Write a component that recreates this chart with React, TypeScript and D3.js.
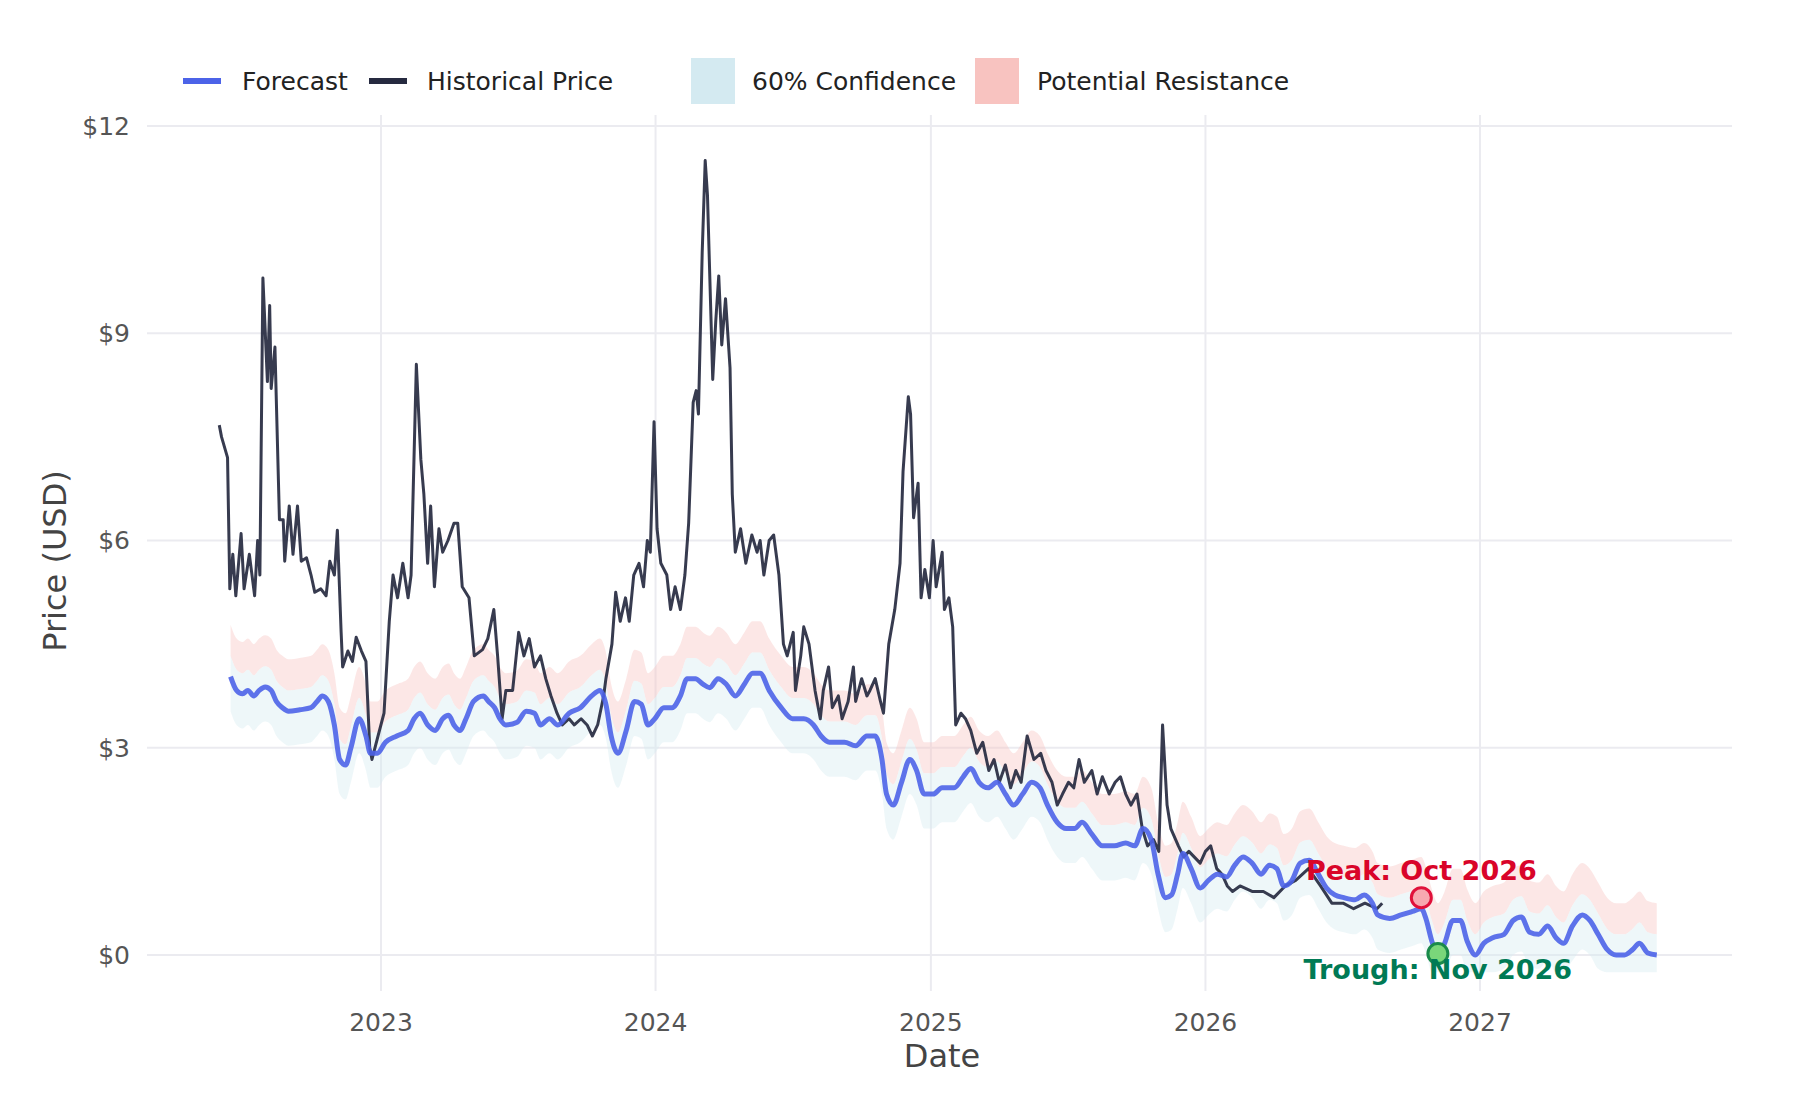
import * as d3 from "d3"

// decimal year, price
const historical: [number, number][] = [
  [2022.41, 7.67], [2022.42, 7.5], [2022.44, 7.2], [2022.45, 5.3], [2022.46, 5.8], [2022.47, 5.2],
  [2022.49, 6.1], [2022.5, 5.3], [2022.52, 5.8], [2022.54, 5.2], [2022.55, 6.0], [2022.56, 5.5],
  [2022.57, 9.8], [2022.585, 8.3], [2022.595, 9.4], [2022.6, 8.2], [2022.615, 8.8], [2022.63, 6.3],
  [2022.645, 6.3], [2022.65, 5.7], [2022.665, 6.5], [2022.68, 5.8], [2022.695, 6.5], [2022.71, 5.7],
  [2022.73, 5.75], [2022.745, 5.5], [2022.76, 5.25], [2022.78, 5.3], [2022.8, 5.2], [2022.815, 5.7],
  [2022.83, 5.5], [2022.84, 6.15], [2022.855, 4.67], [2022.86, 4.17], [2022.88, 4.4], [2022.895, 4.25],
  [2022.91, 4.6], [2022.93, 4.4], [2022.945, 4.25], [2022.96, 3.0], [2022.967, 2.83], [2022.99, 3.17],
  [2023.01, 3.5], [2023.03, 4.83], [2023.045, 5.5], [2023.06, 5.17], [2023.08, 5.67], [2023.1, 5.17],
  [2023.11, 5.5], [2023.13, 8.55], [2023.145, 7.17], [2023.155, 6.67], [2023.17, 5.67], [2023.18, 6.5],
  [2023.195, 5.33], [2023.21, 6.17], [2023.225, 5.83], [2023.245, 6.0], [2023.265, 6.25], [2023.28, 6.25],
  [2023.295, 5.33], [2023.32, 5.17], [2023.34, 4.33], [2023.37, 4.42], [2023.39, 4.58], [2023.41, 5.0],
  [2023.425, 4.33], [2023.44, 3.42], [2023.455, 3.83], [2023.48, 3.83], [2023.5, 4.67], [2023.52, 4.33],
  [2023.54, 4.58], [2023.56, 4.17], [2023.58, 4.33], [2023.6, 4.0], [2023.62, 3.75], [2023.64, 3.5],
  [2023.66, 3.33], [2023.685, 3.42], [2023.705, 3.33], [2023.73, 3.42], [2023.75, 3.33], [2023.77, 3.17],
  [2023.79, 3.33], [2023.81, 3.75], [2023.82, 4.0], [2023.84, 4.5], [2023.855, 5.25], [2023.87, 4.83],
  [2023.89, 5.17], [2023.905, 4.83], [2023.92, 5.5], [2023.94, 5.67], [2023.955, 5.33], [2023.97, 6.0],
  [2023.98, 5.83], [2023.994, 7.72], [2024.006, 6.17], [2024.02, 5.67], [2024.04, 5.5], [2024.056, 5.0],
  [2024.07, 5.33], [2024.09, 5.0], [2024.106, 5.5], [2024.12, 6.25], [2024.136, 8.0], [2024.148, 8.17],
  [2024.157, 7.83], [2024.17, 10.17], [2024.18, 11.5], [2024.19, 11.0], [2024.207, 8.33], [2024.22, 9.17],
  [2024.23, 9.83], [2024.24, 8.83], [2024.256, 9.5], [2024.27, 8.5], [2024.28, 6.67], [2024.29, 5.83],
  [2024.31, 6.17], [2024.33, 5.67], [2024.35, 6.08], [2024.37, 5.83], [2024.38, 6.0], [2024.395, 5.5],
  [2024.415, 6.0], [2024.43, 6.08], [2024.45, 5.5], [2024.465, 4.5], [2024.48, 4.33], [2024.5, 4.67],
  [2024.51, 3.83], [2024.53, 4.33], [2024.54, 4.75], [2024.56, 4.5], [2024.58, 3.83], [2024.6, 3.42],
  [2024.61, 3.83], [2024.63, 4.17], [2024.645, 3.58], [2024.665, 3.75], [2024.68, 3.42], [2024.7, 3.67],
  [2024.72, 4.17], [2024.73, 3.67], [2024.75, 4.0], [2024.77, 3.75], [2024.78, 3.83], [2024.8, 4.0],
  [2024.82, 3.67], [2024.83, 3.5], [2024.85, 4.5], [2024.87, 5.0], [2024.89, 5.67], [2024.9, 7.0],
  [2024.92, 8.08], [2024.93, 7.83], [2024.94, 6.33], [2024.955, 6.83], [2024.967, 5.17], [2024.98, 5.58],
  [2024.996, 5.17], [2025.008, 6.0], [2025.02, 5.33], [2025.04, 5.83], [2025.05, 5.0], [2025.067, 5.17],
  [2025.08, 4.75], [2025.09, 3.33], [2025.11, 3.5], [2025.125, 3.42], [2025.146, 3.25], [2025.167, 2.92],
  [2025.19, 3.08], [2025.21, 2.67], [2025.23, 2.83], [2025.25, 2.5], [2025.27, 2.75], [2025.29, 2.42],
  [2025.31, 2.67], [2025.33, 2.5], [2025.35, 3.17], [2025.375, 2.83], [2025.4, 2.92], [2025.42, 2.67],
  [2025.44, 2.5], [2025.46, 2.17], [2025.48, 2.33], [2025.5, 2.5], [2025.52, 2.42], [2025.54, 2.83],
  [2025.56, 2.5], [2025.585, 2.67], [2025.605, 2.33], [2025.625, 2.58], [2025.65, 2.33], [2025.67, 2.5],
  [2025.69, 2.58], [2025.71, 2.33], [2025.73, 2.17], [2025.75, 2.33], [2025.77, 1.83], [2025.79, 1.58],
  [2025.81, 1.67], [2025.83, 1.5], [2025.845, 3.33], [2025.86, 2.17], [2025.875, 1.83], [2025.9, 1.58],
  [2025.92, 1.42], [2025.94, 1.5], [2025.96, 1.42], [2025.98, 1.33], [2026.0, 1.5], [2026.02, 1.58],
  [2026.04, 1.25], [2026.06, 1.17], [2026.08, 1.0], [2026.1, 0.92], [2026.125, 1.0], [2026.17, 0.92],
  [2026.21, 0.92], [2026.25, 0.83], [2026.29, 1.0], [2026.33, 1.08], [2026.375, 1.25], [2026.42, 1.0],
  [2026.46, 0.75], [2026.5, 0.75], [2026.54, 0.67], [2026.58, 0.75], [2026.625, 0.67], [2026.645, 0.75],
]

const forecast: [number, number][] = [
  [2022.453, 4.03], [2022.474, 3.83], [2022.495, 3.78], [2022.516, 3.83], [2022.537, 3.75], [2022.557, 3.83],
  [2022.578, 3.88], [2022.599, 3.83], [2022.62, 3.67], [2022.641, 3.58], [2022.662, 3.53], [2022.704, 3.55],
  [2022.745, 3.58], [2022.766, 3.67], [2022.787, 3.75], [2022.808, 3.67], [2022.829, 3.33], [2022.85, 2.83],
  [2022.871, 2.75], [2022.891, 3.0], [2022.921, 3.42], [2022.946, 3.17], [2022.962, 2.92], [2022.987, 2.92],
  [2023.017, 3.08], [2023.058, 3.17], [2023.1, 3.25], [2023.121, 3.42], [2023.142, 3.5], [2023.171, 3.33],
  [2023.196, 3.25], [2023.225, 3.42], [2023.246, 3.47], [2023.267, 3.33], [2023.288, 3.25], [2023.309, 3.42],
  [2023.338, 3.67], [2023.372, 3.75], [2023.392, 3.67], [2023.413, 3.58], [2023.434, 3.42], [2023.455, 3.33],
  [2023.497, 3.37], [2023.53, 3.53], [2023.559, 3.5], [2023.58, 3.33], [2023.614, 3.42], [2023.643, 3.33],
  [2023.685, 3.5], [2023.727, 3.58], [2023.768, 3.75], [2023.797, 3.83], [2023.818, 3.63], [2023.839, 3.17],
  [2023.864, 2.92], [2023.894, 3.25], [2023.923, 3.67], [2023.948, 3.63], [2023.973, 3.33], [2023.998, 3.42],
  [2024.031, 3.58], [2024.061, 3.58], [2024.09, 3.75], [2024.115, 4.0], [2024.144, 4.0], [2024.173, 3.92],
  [2024.198, 3.87], [2024.228, 4.0], [2024.257, 3.92], [2024.29, 3.75], [2024.324, 3.92], [2024.353, 4.08],
  [2024.382, 4.08], [2024.415, 3.83], [2024.457, 3.58], [2024.499, 3.42], [2024.541, 3.42], [2024.574, 3.33],
  [2024.603, 3.17], [2024.633, 3.08], [2024.687, 3.08], [2024.729, 3.03], [2024.77, 3.17], [2024.8, 3.17],
  [2024.825, 2.83], [2024.841, 2.33], [2024.866, 2.17], [2024.896, 2.5], [2024.925, 2.83], [2024.95, 2.67],
  [2024.979, 2.33], [2025.008, 2.33], [2025.042, 2.42], [2025.084, 2.42], [2025.117, 2.58], [2025.146, 2.7],
  [2025.175, 2.5], [2025.209, 2.42], [2025.242, 2.5], [2025.271, 2.33], [2025.301, 2.17], [2025.334, 2.33],
  [2025.367, 2.5], [2025.397, 2.42], [2025.426, 2.17], [2025.459, 1.92], [2025.493, 1.83], [2025.522, 1.83],
  [2025.551, 1.92], [2025.585, 1.75], [2025.626, 1.58], [2025.668, 1.58], [2025.71, 1.62], [2025.743, 1.58],
  [2025.772, 1.83], [2025.802, 1.67], [2025.827, 1.17], [2025.856, 0.83], [2025.877, 0.87], [2025.898, 1.17],
  [2025.919, 1.47], [2025.948, 1.25], [2025.981, 0.97], [2026.01, 1.08], [2026.044, 1.17], [2026.077, 1.13],
  [2026.106, 1.3], [2026.136, 1.42], [2026.169, 1.33], [2026.203, 1.17], [2026.232, 1.3], [2026.261, 1.25],
  [2026.286, 1.0], [2026.315, 1.08], [2026.344, 1.33], [2026.378, 1.37], [2026.411, 1.17], [2026.441, 0.97],
  [2026.47, 0.87], [2026.503, 0.83], [2026.545, 0.8], [2026.578, 0.87], [2026.608, 0.75], [2026.628, 0.58],
  [2026.67, 0.53], [2026.712, 0.58], [2026.754, 0.63], [2026.787, 0.67], [2026.804, 0.53], [2026.825, 0.2],
  [2026.846, 0.0], [2026.871, 0.17], [2026.9, 0.5], [2026.929, 0.5], [2026.954, 0.2], [2026.983, 0.0],
  [2027.013, 0.17], [2027.046, 0.25], [2027.088, 0.3], [2027.121, 0.5], [2027.15, 0.55], [2027.18, 0.33],
  [2027.213, 0.3], [2027.246, 0.42], [2027.276, 0.25], [2027.305, 0.17], [2027.338, 0.42], [2027.372, 0.58],
  [2027.401, 0.5], [2027.43, 0.3], [2027.463, 0.08], [2027.497, 0.0], [2027.526, 0.0], [2027.555, 0.08],
  [2027.58, 0.17], [2027.61, 0.03], [2027.643, 0.0],
]

// band offsets around the forecast
const confLow = 0.5
const confHigh = 0.3
const resistHigh = 0.75

const peak: [number, number] = [2026.787, 0.83]
const trough: [number, number] = [2026.846, 0.02]

const yTicks = [0, 3, 6, 9, 12]
const xTicks = [2023, 2024, 2025, 2026, 2027]

const toDate = (y: number) => {
  const yr = Math.floor(y)
  return new Date(yr, 0, 1 + Math.round((y - yr) * 365))
}

const FONT = "DejaVu Sans, sans-serif"

export default function App() {
  const W = 1800, H = 1100
  const left = 147, right = 1732, top = 115, bottom = 991
  const x = d3.scaleTime().domain([new Date(2023, 0, 1), new Date(2027, 0, 1)]).range([381, 1480])
  const y = d3.scaleLinear().domain([0, 12]).range([955, 126])

  const line = d3.line<[number, number]>().x((d) => x(toDate(d[0]))).y((d) => y(d[1]))
  const smooth = d3.line<[number, number]>().x((d) => x(toDate(d[0]))).y((d) => y(d[1])).curve(d3.curveMonotoneX)
  const band = (lo: number, hi: number) =>
    d3.area<[number, number]>()
      .x((d) => x(toDate(d[0])))
      .y0((d) => y(Math.max(d[1] + lo, -0.25)))
      .y1((d) => y(d[1] + hi))
      .curve(d3.curveMonotoneX)(forecast) as string

  return (
    <svg width={W} height={H} style={{ display: "block", margin: -8, fontFamily: FONT }}>
      <rect width={W} height={H} fill="#fff" />
      {yTicks.map((t) => (
        <g key={t}>
          <line x1={left} x2={right} y1={y(t)} y2={y(t)} stroke="#ebebf0" strokeWidth={2} />
          <text x={130} y={y(t)} dy="0.35em" textAnchor="end" fontSize={25} fill="#555">${t}</text>
        </g>
      ))}
      {xTicks.map((t) => (
        <g key={t}>
          <line x1={x(new Date(t, 0, 1))} x2={x(new Date(t, 0, 1))} y1={top} y2={bottom} stroke="#ebebf0" strokeWidth={2} />
          <text x={x(new Date(t, 0, 1))} y={1022} dy="0.35em" textAnchor="middle" fontSize={25} fill="#555">{t}</text>
        </g>
      ))}
      <path d={band(confHigh, resistHigh)} fill="#f8c3c0" opacity={0.4} />
      <path d={band(-confLow, confHigh)} fill="#d4eaf1" opacity={0.4} />
      <path d={line(historical) as string} fill="none" stroke="#262a40" strokeWidth={3} strokeLinejoin="round" opacity={0.92} />
      <path d={smooth(forecast) as string} fill="none" stroke="#4c63e8" strokeWidth={5} opacity={0.9} />

      <circle cx={x(toDate(peak[0]))} cy={y(peak[1])} r={10} fill="#f7a8b0" stroke="#e0103a" strokeWidth={3} />
      <text x={x(toDate(peak[0]))} y={y(peak[1]) - 18} textAnchor="middle" fontSize={27} fontWeight="bold" fill="#d90429">Peak: Oct 2026</text>
      <circle cx={x(toDate(trough[0]))} cy={y(trough[1])} r={10} fill="#7ad67a" stroke="#1a8a4a" strokeWidth={3} />
      <text x={x(toDate(trough[0]))} y={y(trough[1]) + 25} textAnchor="middle" fontSize={27} fontWeight="bold" fill="#007a55">Trough: Nov 2026</text>

      <text x={942} y={1056} dy="0.35em" textAnchor="middle" fontSize={32} fill="#444">Date</text>
      <text transform="translate(55,561) rotate(-90)" dy="0.35em" textAnchor="middle" fontSize={32} fill="#444">Price (USD)</text>

      {/* legend */}
      <line x1={183} x2={221} y1={81} y2={81} stroke="#4c63e8" strokeWidth={6} />
      <text x={242} y={81} dy="0.35em" fontSize={25} fill="#222">Forecast</text>
      <line x1={369} x2={407} y1={81} y2={81} stroke="#262a40" strokeWidth={6} />
      <text x={427} y={81} dy="0.35em" fontSize={25} fill="#222">Historical Price</text>
      <rect x={691} y={58} width={44} height={46} fill="#d4eaf1" />
      <text x={752} y={81} dy="0.35em" fontSize={25} fill="#222">60% Confidence</text>
      <rect x={975} y={58} width={44} height={46} fill="#f8c3c0" />
      <text x={1037} y={81} dy="0.35em" fontSize={25} fill="#222">Potential Resistance</text>
    </svg>
  )
}
